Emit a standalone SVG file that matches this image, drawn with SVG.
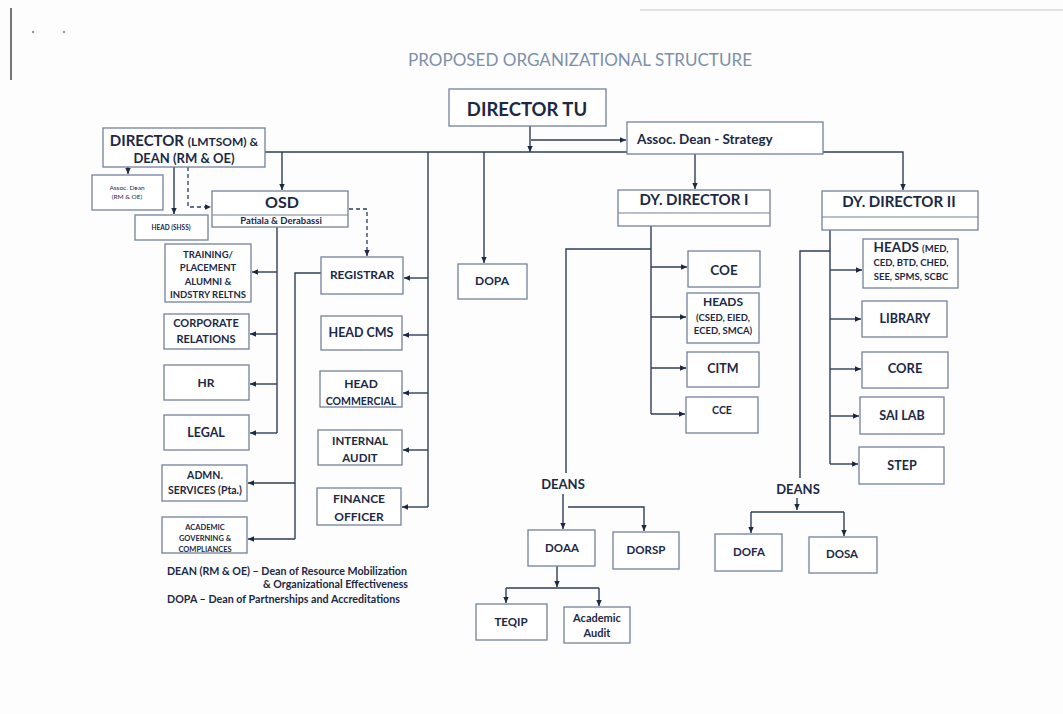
<svg xmlns="http://www.w3.org/2000/svg" width="1063" height="714" viewBox="0 0 1063 714">
<defs>
<style>
.bx{fill:#fff;stroke:#74829a;stroke-width:1.3}
.dv{stroke:#74829a;stroke-width:1.2}
.t{font-family:Lato,"Open Sans","Liberation Sans",sans-serif;font-weight:bold;fill:#1c2945;text-anchor:middle}
.c{fill:none;stroke:#2f3d59;stroke-width:1.4}
.d{fill:none;stroke:#2f3d59;stroke-width:1.3;stroke-dasharray:4 3}
.title{font-family:Lato,"Open Sans","Liberation Sans",sans-serif;font-size:17px;fill:#7d90a9;text-anchor:middle}
.lg{font-family:Lato,"Open Sans","Liberation Sans",sans-serif;font-weight:bold;font-size:10.5px;fill:#1c2945}
</style>
<marker id="ah" viewBox="0 0 10 10" refX="10" refY="5" markerWidth="6" markerHeight="6" orient="auto" markerUnits="userSpaceOnUse"><path d="M0,0.5 L10,5 L0,9.5 z" fill="#1c2945"/></marker>
</defs>
<rect width="1063" height="714" fill="#fdfdfd"/>
<g id="artifacts">
<line x1="11" y1="8" x2="11" y2="80" stroke="#777" stroke-width="2"/>
<circle cx="33" cy="32" r="1.2" fill="#999"/><circle cx="64" cy="32" r="1.2" fill="#999"/>
<line x1="640" y1="10" x2="1063" y2="10" stroke="#e2e2e2" stroke-width="2"/>
</g>
<text class="title" x="580" y="66" textLength="344" lengthAdjust="spacingAndGlyphs">PROPOSED ORGANIZATIONAL STRUCTURE</text>

<g id="connectors">
<path class="c" d="M530,126 V152" marker-end="url(#ah)"/>
<path class="c" d="M531,140 H626" marker-end="url(#ah)"/>
<path class="c" d="M265,152 H903 V190" marker-end="url(#ah)"/>
<path class="c" d="M695,153 V189" marker-end="url(#ah)"/>
<path class="c" d="M282,152 V190" marker-end="url(#ah)"/>
<path class="c" d="M428,152 V507"/>
<path class="c" d="M428,278 H404" marker-end="url(#ah)"/>
<path class="c" d="M428,335 H403" marker-end="url(#ah)"/>
<path class="c" d="M428,393 H403" marker-end="url(#ah)"/>
<path class="c" d="M428,450 H403" marker-end="url(#ah)"/>
<path class="c" d="M428,507 H402" marker-end="url(#ah)"/>
<path class="c" d="M484,152 V263" marker-end="url(#ah)"/>
<path class="c" d="M128,167 V174" marker-end="url(#ah)"/>
<path class="c" d="M174,167 V214" marker-end="url(#ah)"/>
<path class="d" d="M188,167 V207 H211" marker-end="url(#ah)"/>
<path class="d" d="M349,209 H367 V256" marker-end="url(#ah)"/>
<path class="c" d="M277,227 V433"/>
<path class="c" d="M277,272 H252" marker-end="url(#ah)"/>
<path class="c" d="M277,334 H250" marker-end="url(#ah)"/>
<path class="c" d="M277,384 H250" marker-end="url(#ah)"/>
<path class="c" d="M277,433 H250" marker-end="url(#ah)"/>
<path class="c" d="M321,273 H295 V539"/>
<path class="c" d="M295,483 H248" marker-end="url(#ah)"/>
<path class="c" d="M295,539 H248" marker-end="url(#ah)"/>
<path class="c" d="M651,226 V414"/>
<path class="c" d="M651,267 H687" marker-end="url(#ah)"/>
<path class="c" d="M651,317 H686" marker-end="url(#ah)"/>
<path class="c" d="M651,368 H686" marker-end="url(#ah)"/>
<path class="c" d="M651,414 H685" marker-end="url(#ah)"/>
<path class="c" d="M651,249 H566 V473"/>
<path class="c" d="M830,230 V464"/>
<path class="c" d="M830,270 H862" marker-end="url(#ah)"/>
<path class="c" d="M830,319 H861" marker-end="url(#ah)"/>
<path class="c" d="M830,369 H861" marker-end="url(#ah)"/>
<path class="c" d="M830,416 H859" marker-end="url(#ah)"/>
<path class="c" d="M830,464 H858" marker-end="url(#ah)"/>
<path class="c" d="M830,251 H800 V478"/>
<path class="c" d="M563,494 V529" marker-end="url(#ah)"/>
<path class="c" d="M568,507 H644 V531" marker-end="url(#ah)"/>
<path class="c" d="M557,566 V587" marker-end="url(#ah)"/>
<path class="c" d="M506,588 H599"/>
<path class="c" d="M506,588 V603" marker-end="url(#ah)"/>
<path class="c" d="M599,588 V606" marker-end="url(#ah)"/>
<path class="c" d="M797,498 V510" marker-end="url(#ah)"/>
<path class="c" d="M751,512 H844"/>
<path class="c" d="M751,512 V533" marker-end="url(#ah)"/>
<path class="c" d="M844,512 V536" marker-end="url(#ah)"/>
</g>

<g id="director-tu"><rect class="bx" x="449" y="89" width="157" height="37"/><text class="t" x="527" y="116" font-size="18.5">DIRECTOR TU</text></g>
<g id="assoc-dean-strategy"><rect class="bx" x="627" y="122" width="196" height="32"/><text class="t" x="637" y="144" font-size="13.5" style="text-anchor:start">Assoc. Dean - Strategy</text></g>
<g id="director-lmtsom"><rect class="bx" x="103" y="128" width="162" height="39"/>
<text class="t" x="184" y="146" font-size="15">DIRECTOR <tspan font-size="12">(LMTSOM) &amp;</tspan></text>
<text class="t" x="184" y="163" font-size="13">DEAN (RM &amp; OE)</text></g>
<g id="assoc-dean-rm"><rect class="bx" x="92" y="175" width="71" height="35"/>
<text class="t" x="127" y="190" font-size="6.5" style="font-weight:normal">Assoc. Dean</text>
<text class="t" x="127" y="199" font-size="6.5" style="font-weight:normal">(RM &amp; OE)</text></g>
<g id="head-shss"><rect class="bx" x="135" y="215" width="73" height="25"/><text class="t" x="171" y="230" font-size="6.5">HEAD (SHSS)</text></g>
<g id="osd"><rect class="bx" x="212" y="191" width="136" height="36"/><line class="dv" x1="212" y1="215" x2="348" y2="215"/>
<text class="t" x="282" y="208" font-size="16">OSD</text>
<text class="t" x="281" y="224" font-size="9.5">Patiala &amp; Derabassi</text></g>
<g id="dy-director-1"><rect class="bx" x="618" y="190" width="152" height="36"/><line class="dv" x1="618" y1="213" x2="770" y2="213"/><text class="t" x="694" y="205" font-size="15">DY. DIRECTOR I</text></g>
<g id="dy-director-2"><rect class="bx" x="822" y="191" width="156" height="39"/><line class="dv" x1="822" y1="217" x2="978" y2="217"/><text class="t" x="899" y="207" font-size="15">DY. DIRECTOR II</text></g>

<g id="training"><rect class="bx" x="165" y="244" width="86" height="58"/>
<text class="t" x="208" y="258" font-size="9.5">TRAINING/</text>
<text class="t" x="208" y="271" font-size="9.5">PLACEMENT</text>
<text class="t" x="208" y="285" font-size="9.5">ALUMNI &amp;</text>
<text class="t" x="208" y="298" font-size="9.5">INDSTRY RELTNS</text></g>
<g id="corporate"><rect class="bx" x="164" y="314" width="85" height="35"/>
<text class="t" x="206" y="327" font-size="11">CORPORATE</text>
<text class="t" x="206" y="343" font-size="11">RELATIONS</text></g>
<g id="hr"><rect class="bx" x="164" y="365" width="85" height="35"/><text class="t" x="206" y="387" font-size="12">HR</text></g>
<g id="legal"><rect class="bx" x="164" y="415" width="85" height="35"/><text class="t" x="206" y="437" font-size="12.5">LEGAL</text></g>
<g id="admn"><rect class="bx" x="162" y="465" width="85" height="36"/>
<text class="t" x="205" y="479" font-size="10.5">ADMN.</text>
<text class="t" x="205" y="494" font-size="10.5">SERVICES (Pta.)</text></g>
<g id="academic-gov"><rect class="bx" x="162" y="517" width="85" height="36"/>
<text class="t" x="205" y="530" font-size="7.5">ACADEMIC</text>
<text class="t" x="205" y="541" font-size="7.5">GOVERNING &amp;</text>
<text class="t" x="205" y="552" font-size="7.5">COMPLIANCES</text></g>

<g id="registrar"><rect class="bx" x="321" y="257" width="82" height="37"/><text class="t" x="362" y="279" font-size="12">REGISTRAR</text></g>
<g id="head-cms"><rect class="bx" x="321" y="316" width="81" height="34"/><text class="t" x="361" y="337" font-size="12.5">HEAD CMS</text></g>
<g id="head-commercial"><rect class="bx" x="320" y="371" width="82" height="36"/>
<text class="t" x="361" y="388" font-size="12">HEAD</text>
<text class="t" x="361" y="405" font-size="10.5">COMMERCIAL</text></g>
<g id="internal-audit"><rect class="bx" x="318" y="430" width="84" height="35"/>
<text class="t" x="360" y="445" font-size="11.5">INTERNAL</text>
<text class="t" x="360" y="462" font-size="11.5">AUDIT</text></g>
<g id="finance-officer"><rect class="bx" x="317" y="488" width="84" height="37"/>
<text class="t" x="359" y="503" font-size="12">FINANCE</text>
<text class="t" x="359" y="521" font-size="12">OFFICER</text></g>
<g id="dopa"><rect class="bx" x="458" y="264" width="69" height="35"/><text class="t" x="492" y="285" font-size="12">DOPA</text></g>

<g id="coe"><rect class="bx" x="688" y="251" width="72" height="36"/><text class="t" x="724" y="275" font-size="13.5">COE</text></g>
<g id="heads-1"><rect class="bx" x="687" y="293" width="72" height="50"/>
<text class="t" x="723" y="306" font-size="12">HEADS</text>
<text class="t" x="723" y="321" font-size="9.5">(CSED, EIED,</text>
<text class="t" x="723" y="334" font-size="9.5">ECED, SMCA)</text></g>
<g id="citm"><rect class="bx" x="687" y="352" width="72" height="35"/><text class="t" x="723" y="373" font-size="12.5">CITM</text></g>
<g id="cce"><rect class="bx" x="686" y="397" width="72" height="36"/><text class="t" x="722" y="414" font-size="10.5">CCE</text></g>

<g id="heads-2"><rect class="bx" x="863" y="239" width="95" height="49"/>
<text class="t" x="911" y="252" font-size="13.5">HEADS <tspan font-size="9.5">(MED,</tspan></text>
<text class="t" x="911" y="266" font-size="9.5">CED, BTD, CHED,</text>
<text class="t" x="911" y="280" font-size="9.5">SEE, SPMS, SCBC</text></g>
<g id="library"><rect class="bx" x="862" y="301" width="85" height="36"/><text class="t" x="905" y="323" font-size="12.5">LIBRARY</text></g>
<g id="core"><rect class="bx" x="862" y="352" width="86" height="36"/><text class="t" x="905" y="373" font-size="13">CORE</text></g>
<g id="sai-lab"><rect class="bx" x="860" y="397" width="84" height="37"/><text class="t" x="902" y="420" font-size="12.5">SAI LAB</text></g>
<g id="step"><rect class="bx" x="859" y="447" width="85" height="37"/><text class="t" x="902" y="470" font-size="12.5">STEP</text></g>

<g id="deans-1"><text class="t" x="563" y="489" font-size="13">DEANS</text></g>
<g id="doaa"><rect class="bx" x="528" y="530" width="67" height="36"/><text class="t" x="562" y="552" font-size="11.5">DOAA</text></g>
<g id="dorsp"><rect class="bx" x="613" y="532" width="66" height="37"/><text class="t" x="646" y="554" font-size="11.5">DORSP</text></g>
<g id="teqip"><rect class="bx" x="476" y="604" width="71" height="36"/><text class="t" x="511" y="626" font-size="11.5">TEQIP</text></g>
<g id="academic-audit"><rect class="bx" x="564" y="607" width="66" height="36"/>
<text class="t" x="597" y="622" font-size="11">Academic</text>
<text class="t" x="597" y="637" font-size="11">Audit</text></g>
<g id="deans-2"><text class="t" x="798" y="494" font-size="13">DEANS</text></g>
<g id="dofa"><rect class="bx" x="715" y="534" width="67" height="37"/><text class="t" x="749" y="556" font-size="11.5">DOFA</text></g>
<g id="dosa"><rect class="bx" x="809" y="537" width="68" height="36"/><text class="t" x="842" y="558" font-size="11.5">DOSA</text></g>

<g id="legend">
<text class="lg" x="167" y="575" textLength="240" lengthAdjust="spacingAndGlyphs">DEAN (RM &amp; OE) – Dean of Resource Mobilization</text>
<text class="lg" x="263" y="588" textLength="145" lengthAdjust="spacingAndGlyphs">&amp; Organizational Effectiveness</text>
<text class="lg" x="167" y="603" textLength="233" lengthAdjust="spacingAndGlyphs">DOPA – Dean of Partnerships and Accreditations</text>
</g>
</svg>
